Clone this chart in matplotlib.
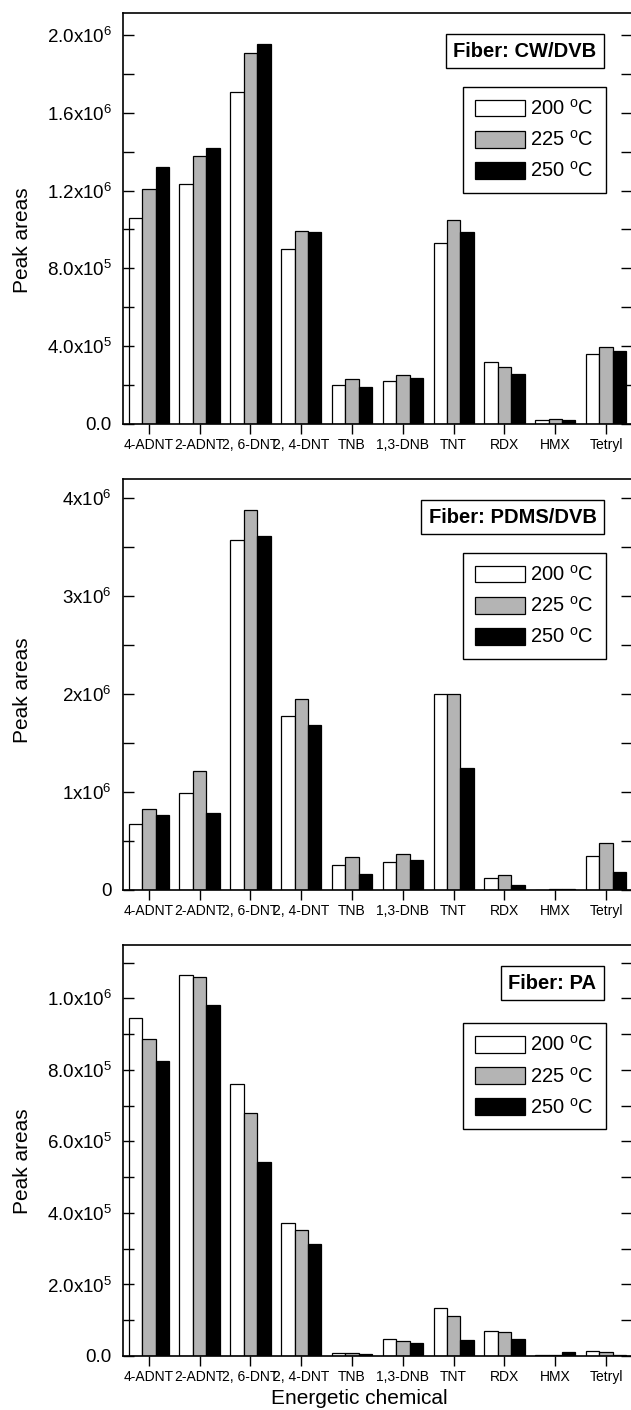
import numpy as np
import matplotlib
matplotlib.use('Agg')
import matplotlib.pyplot as plt
from matplotlib.ticker import MultipleLocator

plt.rcParams['font.family'] = ['Liberation Sans', 'DejaVu Sans']
plt.rcParams['mathtext.default'] = 'regular'

chemicals = ['4-ADNT', '2-ADNT', '2, 6-DNT', '2, 4-DNT', 'TNB', '1,3-DNB',
             'TNT', 'RDX', 'HMX', 'Tetryl']
temps = ['200 $^o$C', '225 $^o$C', '250 $^o$C']

# CW/DVB fiber
cw_200 = [1.057e6, 1.232e6, 1.709e6, 0.898e6, 2.00e5, 2.19e5, 0.931e6, 3.19e5, 2.0e4, 3.60e5]
cw_225 = [1.207e6, 1.378e6, 1.906e6, 0.994e6, 2.31e5, 2.52e5, 1.049e6, 2.93e5, 2.7e4, 3.98e5]
cw_250 = [1.320e6, 1.417e6, 1.954e6, 0.987e6, 1.92e5, 2.35e5, 0.989e6, 2.55e5, 2.2e4, 3.75e5]

# PDMS/DVB fiber
pdms_200 = [0.671e6, 0.987e6, 3.574e6, 1.774e6, 2.55e5, 2.83e5, 1.998e6, 1.19e5, 3.0e3, 3.51e5]
pdms_225 = [0.824e6, 1.212e6, 3.881e6, 1.951e6, 3.40e5, 3.71e5, 1.998e6, 1.53e5, 1.4e4, 4.77e5]
pdms_250 = [0.766e6, 0.783e6, 3.608e6, 1.682e6, 1.67e5, 3.03e5, 1.243e6, 5.1e4, 1.0e4, 1.84e5]

# PA fiber
pa_200 = [9.46e5, 1.065e6, 7.61e5, 3.71e5, 9.0e3, 4.75e4, 1.33e5, 7.0e4, 4.0e3, 1.5e4]
pa_225 = [8.86e5, 1.059e6, 6.78e5, 3.52e5, 9.0e3, 4.2e4, 1.12e5, 6.6e4, 2.0e3, 1.0e4]
pa_250 = [8.26e5, 0.981e6, 5.41e5, 3.12e5, 6.5e3, 3.7e4, 4.5e4, 4.8e4, 1.0e4, 4.0e3]

cw_ticks = [0, 4e5, 8e5, 1.2e6, 1.6e6, 2.0e6]
cw_ticklabels = ['0.0', '4.0x10$^5$', '8.0x10$^5$', '1.2x10$^6$', '1.6x10$^6$', '2.0x10$^6$']
pdms_ticks = [0, 1e6, 2e6, 3e6, 4e6]
pdms_ticklabels = ['0', '1x10$^6$', '2x10$^6$', '3x10$^6$', '4x10$^6$']
pa_ticks = [0, 2e5, 4e5, 6e5, 8e5, 1.0e6]
pa_ticklabels = ['0.0', '2.0x10$^5$', '4.0x10$^5$', '6.0x10$^5$', '8.0x10$^5$', '1.0x10$^6$']

panels = [
    ('Fiber: CW/DVB', [cw_200, cw_225, cw_250], cw_ticks, cw_ticklabels, 2e5, 2.113e6,
     0.6993, 0.820, 0.448),
    ('Fiber: PDMS/DVB', [pdms_200, pdms_225, pdms_250], pdms_ticks, pdms_ticklabels, 5e5, 4.194e6,
     0.3688, 0.820, 0.487),
    ('Fiber: PA', [pa_200, pa_225, pa_250], pa_ticks, pa_ticklabels, 1e5, 1.149e6,
     0.0383, 0.810, 0.474),
]

colors = ['white', '#b4b4b4', 'black']
fig = plt.figure(figsize=(6.31, 14.10), dpi=100)

x = np.arange(len(chemicals))
bw = 0.265

for title, series, ticks, ticklabels, minor, ytop, bottom, leg_y, ylab_y in panels:
    ax = fig.add_axes([0.1949, bottom, 0.8067, 0.2915])
    for i, (vals, c) in enumerate(zip(series, colors)):
        ax.bar(x + (i - 1) * bw, vals, bw, color=c, edgecolor='black',
               linewidth=0.9, label=temps[i])
    ax.set_xlim(-0.51, 9.51)
    ax.set_ylim(0, ytop)
    ax.set_xticks(x)
    ax.set_xticklabels(chemicals, fontsize=10)
    ax.set_yticks(ticks)
    ax.set_yticklabels(ticklabels, fontsize=13.5)
    ax.yaxis.set_minor_locator(MultipleLocator(minor))
    ax.tick_params(axis='y', which='both', direction='in', left=True, right=True,
                   length=8, width=1, pad=8)
    ax.tick_params(axis='x', direction='out', length=7, width=1, pad=3)
    for s in ax.spines.values():
        s.set_linewidth(1.2)
    ax.set_ylabel('Peak areas', fontsize=15)
    ax.yaxis.set_label_coords(-0.179, ylab_y)

    ax.text(0.930, 0.907, title, transform=ax.transAxes, ha='right', va='center',
            fontsize=14.5, fontweight='bold',
            bbox=dict(boxstyle='square,pad=0.36', fc='white', ec='black', lw=1))
    leg = ax.legend(loc='upper right', bbox_to_anchor=(0.948, leg_y), fontsize=14.5,
                    frameon=True, fancybox=False, edgecolor='black', framealpha=1,
                    handlelength=2.5, handleheight=0.9, handletextpad=0.25,
                    labelspacing=0.55, borderpad=0.6, borderaxespad=0)
    leg.get_frame().set_linewidth(1)

fig.text(0.569, 1 - 1398 / 1410, 'Energetic chemical', ha='center', va='center', fontsize=15)

fig.savefig('out.png', dpi=100)
